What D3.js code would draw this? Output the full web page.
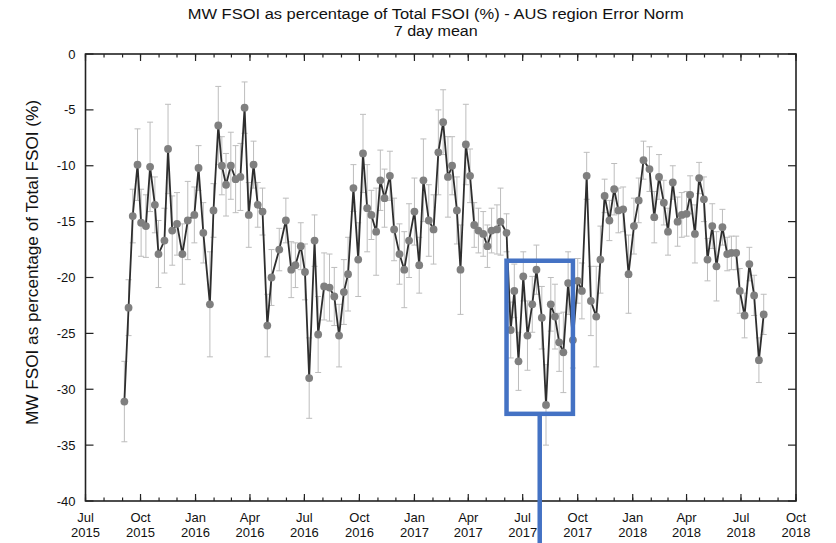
<!DOCTYPE html>
<html>
<head>
<meta charset="utf-8">
<script src="https://cdn.jsdelivr.net/npm/d3@7"></script>
<style>
  html, body { margin: 0; padding: 0; background: #ffffff; }
  svg { display: block; font-family: "Liberation Sans", Arial, Helvetica, sans-serif; }
  .narrow { font-family: "Liberation Sans Narrow", "Arial Narrow", "Liberation Sans", Arial, sans-serif; }
</style>
</head>
<body>
<svg id="chart" width="836" height="543"></svg>
<script>
// ---- data ----
const titleLines = ["MW FSOI as percentage of Total FSOI (%) - AUS region Error Norm", "7 day mean"];
const yLabel = "MW FSOI as percentage of Total FSOI (%)";
const yTicks = [0, -5, -10, -15, -20, -25, -30, -35, -40];

const dates = [
  "2015-09-04","2015-09-11","2015-09-18","2015-09-26","2015-10-02","2015-10-10","2015-10-17","2015-10-25","2015-10-31","2015-11-10",
  "2015-11-16","2015-11-23","2015-12-01","2015-12-10","2015-12-19","2015-12-30","2016-01-06","2016-01-14","2016-01-25","2016-01-31",
  "2016-02-08","2016-02-14","2016-02-21","2016-02-29","2016-03-08","2016-03-16","2016-03-23","2016-03-30","2016-04-07","2016-04-14",
  "2016-04-22","2016-04-30","2016-05-07","2016-05-20","2016-05-31","2016-06-09","2016-06-16","2016-06-25","2016-07-02","2016-07-09",
  "2016-07-18","2016-07-24","2016-08-03","2016-08-12","2016-08-20","2016-08-28","2016-09-05","2016-09-12","2016-09-21","2016-09-29",
  "2016-10-07","2016-10-14","2016-10-21","2016-10-29","2016-11-05","2016-11-12","2016-11-21","2016-11-28","2016-12-07","2016-12-15",
  "2016-12-23","2017-01-01","2017-01-09","2017-01-16","2017-01-25","2017-02-02","2017-02-10","2017-02-18","2017-02-26","2017-03-05",
  "2017-03-13","2017-03-19","2017-03-28","2017-04-04","2017-04-11","2017-04-18","2017-04-26","2017-05-03","2017-05-10","2017-05-19",
  "2017-05-25","2017-06-04","2017-06-11","2017-06-17","2017-06-24","2017-07-02","2017-07-09","2017-07-17","2017-07-24","2017-08-02",
  "2017-08-09","2017-08-17","2017-08-24","2017-08-31","2017-09-07","2017-09-15","2017-09-23","2017-10-01","2017-10-08","2017-10-16",
  "2017-10-23","2017-11-01","2017-11-08","2017-11-15","2017-11-23","2017-12-01","2017-12-08","2017-12-16","2017-12-25","2018-01-03",
  "2018-01-11","2018-01-19","2018-01-29","2018-02-06","2018-02-14","2018-02-22","2018-03-01","2018-03-09","2018-03-17","2018-03-24",
  "2018-04-01","2018-04-07","2018-04-15","2018-04-22","2018-04-30","2018-05-06","2018-05-14","2018-05-21","2018-05-31","2018-06-08",
  "2018-06-15","2018-06-23","2018-06-29","2018-07-07","2018-07-15","2018-07-23","2018-07-31","2018-08-08"
];

const values = [
  -31.1,-22.7,-14.5,-9.9,-15.1,-15.4,-10.1,-13.5,-17.9,-16.7,
  -8.5,-15.8,-15.2,-17.9,-14.9,-14.4,-10.2,-16.0,-22.4,-14.0,
  -6.4,-10.0,-11.7,-10.0,-11.2,-11.0,-4.8,-14.4,-9.9,-13.5,
  -14.1,-24.3,-20.0,-17.5,-14.9,-19.3,-18.9,-17.2,-19.5,-29.0,
  -16.7,-25.1,-20.8,-20.9,-21.7,-25.2,-21.3,-19.7,-12.0,-18.4,
  -8.9,-13.8,-14.4,-15.9,-11.3,-12.9,-10.9,-15.7,-17.9,-19.3,
  -16.7,-14.1,-18.9,-11.3,-14.9,-15.7,-8.8,-6.1,-11.0,-10.0,
  -14.0,-19.3,-8.1,-10.9,-15.3,-15.8,-16.1,-17.2,-15.8,-15.7,
  -15.0,-16.0,-24.7,-21.2,-27.5,-19.9,-25.2,-22.4,-19.3,-23.6,
  -31.4,-22.4,-23.5,-25.8,-26.7,-20.5,-25.6,-20.3,-21.2,-10.9,
  -22.1,-23.5,-18.4,-12.7,-14.9,-12.1,-14.0,-13.9,-19.7,-15.4,
  -13.1,-9.5,-10.3,-14.6,-11.0,-13.3,-15.9,-11.5,-15.0,-14.4,
  -14.3,-12.6,-16.1,-11.1,-13.0,-18.4,-15.4,-19.0,-15.5,-17.9,
  -17.8,-17.8,-21.2,-23.4,-18.8,-21.6,-27.4,-23.3
];

const errors = [
  3.6,2.5,2.4,3.2,3.0,2.8,4.0,2.5,3.0,2.9,
  4.0,3.1,2.8,2.7,3.5,2.5,2.0,2.7,4.7,2.4,
  3.5,2.6,2.8,3.0,3.0,3.0,2.3,2.9,2.1,2.0,
  2.1,2.8,2.5,1.9,2.0,2.5,2.0,2.1,2.5,3.6,
  2.3,3.4,3.0,3.0,2.6,2.8,2.9,3.3,2.1,3.3,
  3.5,3.9,2.2,3.9,2.7,2.6,2.2,2.8,2.7,3.4,
  3.3,3.0,2.5,3.7,3.2,3.1,3.8,2.9,3.6,2.6,
  3.0,4.0,3.6,2.4,2.0,2.0,2.0,1.9,2.0,2.2,
  3.0,1.7,2.5,2.4,2.6,2.2,3.1,2.5,2.2,2.8,
  3.6,2.4,2.9,2.6,3.6,2.8,2.5,2.0,2.5,2.1,
  3.1,4.5,3.0,1.5,1.8,2.3,2.0,2.0,3.5,2.5,
  2.0,1.7,2.0,2.3,2.0,2.0,2.1,1.5,2.2,2.0,
  2.0,1.7,2.6,1.4,2.0,1.9,2.0,3.1,1.6,1.5,
  1.5,1.5,2.0,2.0,1.5,1.8,2.0,1.8
];

// annotation box (highlighted period, in data units)
const boxDates = ["2017-06-04", "2017-09-23"];
const boxValues = [-18.5, -32.2];

// ---- drawing ----
const svg = d3.select("#chart");
const W = 836, H = 543;
const margin = { left: 85.5, right: 40, top: 54, bottom: 42 };
const parse = d3.utcParse("%Y-%m-%d");

const data = dates.map((d, i) => ({ date: parse(d), v: values[i], e: errors[i] }));

const x = d3.scaleUtc()
  .domain([Date.UTC(2015, 6, 1), Date.UTC(2018, 9, 1)])
  .range([margin.left, W - margin.right]);
const y = d3.scaleLinear()
  .domain([-40, 0])
  .range([H - margin.bottom, margin.top]);

const x0 = x.range()[0], x1 = x.range()[1];
const y0 = y.range()[1], y1 = y.range()[0];

// title (narrow face, fitted to the reference width)
const titleWidths = [496, 84];
svg.append("g").selectAll("text").data(titleLines).join("text")
  .attr("class", "narrow")
  .attr("x", (x0 + x1) / 2 - 5)
  .attr("y", (d, i) => 19 + i * 17)
  .attr("text-anchor", "middle")
  .attr("font-size", 15.5)
  .attr("fill", "#111")
  .attr("textLength", (d, i) => titleWidths[i])
  .attr("lengthAdjust", "spacingAndGlyphs")
  .text(d => d);

// y label
svg.append("text")
  .attr("class", "narrow")
  .attr("transform", `translate(38,${(y0 + y1) / 2 - 15}) rotate(-90)`)
  .attr("text-anchor", "middle")
  .attr("font-size", 16.5)
  .attr("fill", "#111")
  .attr("textLength", 325)
  .attr("lengthAdjust", "spacingAndGlyphs")
  .text(yLabel);

// axes ticks (inward) on all four sides
const majorTicks = x.ticks(d3.utcMonth.every(3));
const minorTicks = x.ticks(d3.utcMonth.every(1));
const axG = svg.append("g").attr("stroke", "#222").attr("stroke-width", 1.2);

axG.selectAll("line.minb").data(minorTicks).join("line")
  .attr("x1", d => x(d)).attr("x2", d => x(d))
  .attr("y1", y1).attr("y2", y1 - 3.5);
axG.selectAll("line.mint").data(minorTicks).join("line")
  .attr("x1", d => x(d)).attr("x2", d => x(d))
  .attr("y1", y0).attr("y2", y0 + 3.5);
axG.selectAll("line.majb").data(majorTicks).join("line")
  .attr("x1", d => x(d)).attr("x2", d => x(d))
  .attr("y1", y1).attr("y2", y1 - 7);
axG.selectAll("line.majt").data(majorTicks).join("line")
  .attr("x1", d => x(d)).attr("x2", d => x(d))
  .attr("y1", y0).attr("y2", y0 + 7);
axG.selectAll("line.yl").data(yTicks).join("line")
  .attr("x1", x0).attr("x2", x0 + 8)
  .attr("y1", d => y(d)).attr("y2", d => y(d));
axG.selectAll("line.yr").data(yTicks).join("line")
  .attr("x1", x1).attr("x2", x1 - 8)
  .attr("y1", d => y(d)).attr("y2", d => y(d));

// y tick labels
svg.append("g").selectAll("text").data(yTicks).join("text")
  .attr("x", x0 - 10)
  .attr("y", d => y(d))
  .attr("dy", "0.35em")
  .attr("text-anchor", "end")
  .attr("font-size", 13)
  .attr("fill", "#111")
  .text(d => d3.format("d")(d).replace("−", "-"));

// x tick labels (two lines)
const fmtM = d3.utcFormat("%b"), fmtY = d3.utcFormat("%Y");
const xl = svg.append("g").selectAll("text").data(majorTicks).join("text")
  .attr("text-anchor", "middle")
  .attr("font-size", 13)
  .attr("fill", "#111");
xl.append("tspan").attr("x", d => x(d)).attr("y", 522).text(d => fmtM(d));
xl.append("tspan").attr("x", d => x(d)).attr("y", 537).text(d => fmtY(d));

// error bars
const eb = svg.append("g").attr("stroke", "#bdbdbd").attr("stroke-width", 1);
eb.selectAll("line.v").data(data).join("line")
  .attr("x1", d => x(d.date)).attr("x2", d => x(d.date))
  .attr("y1", d => y(d.v + d.e)).attr("y2", d => y(d.v - d.e));
eb.selectAll("line.t").data(data).join("line")
  .attr("x1", d => x(d.date) - 3).attr("x2", d => x(d.date) + 3)
  .attr("y1", d => y(d.v + d.e)).attr("y2", d => y(d.v + d.e));
eb.selectAll("line.b").data(data).join("line")
  .attr("x1", d => x(d.date) - 3).attr("x2", d => x(d.date) + 3)
  .attr("y1", d => y(d.v - d.e)).attr("y2", d => y(d.v - d.e));

// line
svg.append("path")
  .datum(data)
  .attr("fill", "none")
  .attr("stroke", "#2e2e2e")
  .attr("stroke-width", 1.8)
  .attr("d", d3.line().x(d => x(d.date)).y(d => y(d.v)));

// markers
svg.append("g").selectAll("circle").data(data).join("circle")
  .attr("cx", d => x(d.date))
  .attr("cy", d => y(d.v))
  .attr("r", 3.9)
  .attr("fill", "#7f7f7f");

// frame
svg.append("rect")
  .attr("x", x0).attr("y", y0)
  .attr("width", x1 - x0).attr("height", y1 - y0)
  .attr("fill", "none").attr("stroke", "#222").attr("stroke-width", 1.6);

// annotation box + pointer line
const bx0 = x(parse(boxDates[0])), bx1 = x(parse(boxDates[1]));
const by0 = y(boxValues[0]), by1 = y(boxValues[1]);
svg.append("rect")
  .attr("x", bx0).attr("y", by0)
  .attr("width", bx1 - bx0).attr("height", by1 - by0)
  .attr("fill", "none").attr("stroke", "#4472c4").attr("stroke-width", 4.5);
svg.append("line")
  .attr("x1", (bx0 + bx1) / 2).attr("x2", (bx0 + bx1) / 2)
  .attr("y1", by1).attr("y2", H)
  .attr("stroke", "#4472c4").attr("stroke-width", 4.5);
</script>
</body>
</html>
